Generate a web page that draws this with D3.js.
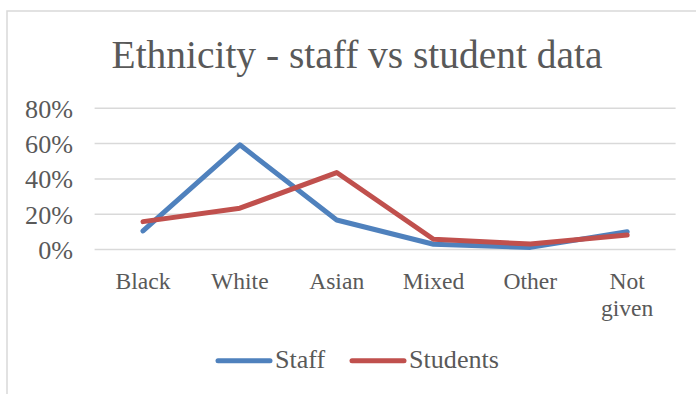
<!DOCTYPE html>
<html>
<head>
<meta charset="utf-8">
<script src="https://cdn.jsdelivr.net/npm/d3@7"></script>
<style>
  html, body { margin: 0; padding: 0; background: #fff; }
  svg { display: block; }
  text { font-family: "Liberation Serif", "DejaVu Serif", serif; fill: #595959; }
</style>
</head>
<body>
<svg id="chart" width="696" height="394"></svg>
<script>
// Share of people by ethnicity
const categories = ["Black", "White", "Asian", "Mixed", "Other", "Not given"];
const staffValues = [0.105, 0.593, 0.167, 0.030, 0.012, 0.101];
const studentValues = [0.158, 0.234, 0.436, 0.058, 0.031, 0.082];
const yTicks = [0, 0.2, 0.4, 0.6, 0.8];
const seriesNames = ["Staff", "Students"];
const seriesColors = ["#4f81bd", "#c0504d"];
const chartTitle = "Ethnicity - staff vs student data";

const svg = d3.select("#chart");

// Fit a text selection's font size so that one reference label has the given width
function fitFont(sel, refNode, targetWidth, startSize) {
  sel.style("font-size", startSize + "px");
  const w = refNode.getComputedTextLength();
  const size = startSize * targetWidth / w;
  sel.style("font-size", size + "px");
  return size;
}

// Outer chart frame
svg.append("rect")
  .attr("x", 7).attr("y", 11)
  .attr("width", 720).attr("height", 420)
  .attr("fill", "none")
  .attr("stroke", "#d9d9d9")
  .attr("stroke-width", 1.5);

const x = d3.scaleBand().domain(categories).range([94.6, 675.6]).padding(0);
const y = d3.scaleLinear().domain([0, 0.8]).range([249.5, 108.3]);
const cx = c => x(c) + x.bandwidth() / 2;

// Title
const title = svg.append("text")
  .attr("x", 357).attr("y", 68)
  .attr("text-anchor", "middle")
  .text(chartTitle);
fitFont(title, title.node(), 491, 36);

// Horizontal gridlines
svg.append("g")
  .selectAll("line")
  .data(yTicks)
  .join("line")
  .attr("x1", x.range()[0]).attr("x2", x.range()[1])
  .attr("y1", d => y(d)).attr("y2", d => y(d))
  .attr("stroke", "#d9d9d9")
  .attr("stroke-width", 1.5);

// Y axis labels
const yAxis = d3.axisLeft(y).tickValues(yTicks).tickFormat(d3.format(".0%")).tickSize(0).tickPadding(0);
const yG = svg.append("g").attr("transform", "translate(73,0)").call(yAxis);
yG.select(".domain").remove();
yG.selectAll("text").attr("fill", "#595959").attr("font-family", null).attr("dy", "0.34em");
yG.attr("font-family", null).attr("font-size", null);
fitFont(yG.selectAll("text"), yG.selectAll("text").nodes()[4], 48, 20);

// X axis category labels (wrapped on spaces)
const xG = svg.append("g");
const catText = xG.selectAll("text")
  .data(categories)
  .join("text")
  .attr("x", d => cx(d))
  .attr("y", 289)
  .attr("text-anchor", "middle");
catText.each(function(d) {
  const words = d.split(" ");
  const t = d3.select(this);
  words.forEach((w, i) => {
    t.append("tspan").attr("x", cx(d)).attr("dy", i === 0 ? 0 : 27).text(w);
  });
});
{
  const ref = catText.filter(d => d === "Black").select("tspan").node();
  catText.style("font-size", "20px");
  const w = ref.getComputedTextLength();
  catText.style("font-size", (20 * 55 / w) + "px");
}

// Series lines
const line = d3.line()
  .x((d, i) => cx(categories[i]))
  .y(d => y(d));

const series = [staffValues, studentValues];
svg.append("g")
  .selectAll("path")
  .data(series)
  .join("path")
  .attr("d", d => line(d))
  .attr("fill", "none")
  .attr("stroke", (d, i) => seriesColors[i])
  .attr("stroke-width", 5)
  .attr("stroke-linejoin", "round")
  .attr("stroke-linecap", "round");

// Legend
const legendItems = [
  { name: seriesNames[0], color: seriesColors[0], x0: 218 },
  { name: seriesNames[1], color: seriesColors[1], x0: 352 }
];
const leg = svg.append("g");
const items = leg.selectAll("g").data(legendItems).join("g")
  .attr("transform", d => `translate(${d.x0},0)`);
items.append("line")
  .attr("x1", 0).attr("x2", 52)
  .attr("y1", 360.7).attr("y2", 360.7)
  .attr("stroke", d => d.color)
  .attr("stroke-width", 5)
  .attr("stroke-linecap", "round");
const legText = items.append("text")
  .attr("x", 57).attr("y", 367.5)
  .text(d => d.name);
fitFont(legText, legText.nodes()[1], 90, 20);
</script>
</body>
</html>
